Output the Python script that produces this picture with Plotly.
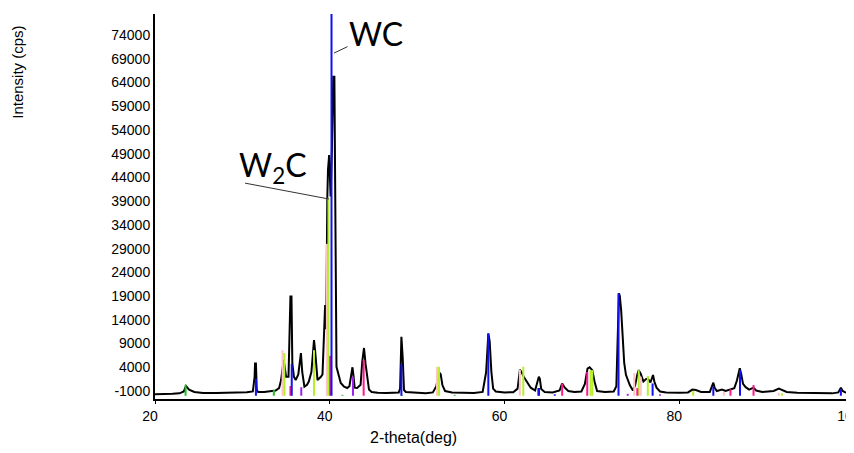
import plotly.graph_objects as go

# ---- measured pattern (2-theta in deg, intensity in cps) ----
two_theta = [20.0, 21.0, 22.0, 22.8, 23.3, 23.55, 23.9, 24.5, 25.5, 27.0, 28.5, 29.5, 30.5, 31.2,
             31.4, 31.45, 31.55, 31.65, 31.8, 32.5, 33.2, 33.8, 34.2, 34.43, 34.73, 35.0, 35.28,
             35.5, 35.62, 35.72, 35.9, 36.1, 36.4, 36.7, 36.85, 37.1, 37.4, 37.6, 37.9, 38.2,
             38.35, 38.6, 38.99, 39.17, 39.47, 39.6, 39.72, 39.8, 39.93, 40.0, 40.1, 40.25, 40.4,
             40.53, 40.62, 40.7, 40.77, 41.07, 41.26, 41.64, 42.0, 42.25, 42.45, 42.6, 42.7, 42.85,
             43.14, 43.53, 43.72, 43.92, 44.1, 44.3, 44.49, 44.8, 45.5, 46.5, 47.5, 47.9, 48.05,
             48.2, 48.35, 48.5, 48.7, 50.0, 51.0, 51.8, 52.2, 52.5, 52.7, 52.9, 53.2, 54.0, 55.0,
             56.5, 57.5, 57.9, 58.15, 58.3, 58.5, 58.7, 59.0, 60.0, 61.0, 61.5, 61.76, 61.95, 62.2,
             62.6, 63.0, 63.5, 63.93, 64.05, 64.2, 64.6, 65.5, 66.3, 66.6, 66.9, 67.3, 68.0, 68.8,
             69.2, 69.5, 69.74, 70.05, 70.3, 70.6, 71.5, 72.5, 72.8, 72.95, 73.1, 73.2, 73.35,
             73.55, 73.7, 73.9, 74.1, 74.35, 74.7, 74.95, 75.2, 75.36, 75.6, 75.9, 76.2, 76.4,
             76.7, 77.0, 77.15, 77.4, 77.8, 78.5, 80.0, 81.0, 81.5, 81.9, 82.5, 83.5, 83.9, 84.05,
             84.3, 84.9, 85.3, 85.8, 86.3, 86.6, 86.93, 87.1, 87.3, 87.6, 88.0, 88.5, 88.8, 89.5,
             90.8, 91.4, 91.8, 92.3, 93.5, 95.0, 96.5, 97.5, 98.2, 98.5, 98.7, 99.0, 99.3, 100.0]
intensity = [-1700, -1700, -1600, -1500, -1100, 50, -700, -1200, -1400, -1400, -1350, -1300, -1250, -1100,
             2000, 4800, 4800, -800, -1200, -1200, -1100, -900, -400, 1300, 5500, 2000, 2000,
             18900, 18900, 4800, 2000, 1300, 2500, 7000, 3000, -100, 300, 1000, 3000, 9750,
             7000, 1300, 2000, 2500, 17100, 12000, 39700, 45600, 48700, 45000, 40000, 50000, 65200,
             65200, 30000, 10000, 4100, 2000, 700, -100, -370, 0, 3000, 4000, 2500, -300,
             -370, 300, 5200, 8060, 4700, 1300, -700, -1200, -1350, -1400, -1350, -1300, -500,
             10400, 6000, -800, -1200, -1400, -1450, -1300, 0, 3000, 2500, 200, -1000, -1300, -1400,
             -1400, -1200, 3000, 11100, 9500, 3000, -500, -1100, -1300, -1250, -500, 3430, 3000, 2000,
             700, -300, -900, 2000, 1500, -600, -1200, -1300, -900, 600, -300, -1000, -1200, -1100,
             500, 3700, 4000, 3400, 1000, -1000, -1200, -1100, 0, 10100, 19600, 19000, 16000,
             9750, 4900, 2400, 1300, 200, -900, 200, 2500, 3400, 2600, 1000, 1500, 1600,
             800, 2370, 1000, -300, -1100, -1300, -1350, -1300, -700, -800, -1200, -1200, 750, -300,
             -1000, -700, -1000, -700, -400, 1200, 3800, 2500, 500, -200, -700, -300, -900, -1200,
             -1000, -500, -800, -1200, -1350, -1450, -1500, -1500, -1300, -300, -1000, -1300, -1400, -1450]

# ---- reference stick patterns (position, height) ----
wc_pos = [31.55, 35.65, 40.2, 48.2, 58.15, 63.95, 65.75, 73.05, 76.95, 83.9, 86.95, 98.5]
wc_h = [1600, 4700, 80000, 4700, 11150, -370, -1700, 19600, 600, -100, 3400, -600]
w2c_pos = [34.8, 38.2, 39.85, 52.5, 62.15, 69.85, 70.05, 75.36, 76.4, 81.6, 91.75]
w2c_h = [7000, 7600, 39700, 4100, 4100, 3400, 3400, 3400, 2160, -1000, -1500]
pink_pos = [34.6, 39.67, 52.27, 61.76, 74.85, 75.6, 85.1, 91.4]
pink_h = [7600, 30000, 4100, 3430, 2800, 2000, -1200, -1400]
magenta_pos = [35.5, 40.05, 43.88, 63.85, 66.6, 69.47, 75.2, 85.86, 88.5]
magenta_h = [50, 6400, 5500, -370, 600, 3000, -400, -640, 260]
purple_pos = [36.74, 42.66, 74.1, 77.8]
purple_h = [-200, 2000, -1600, -1700]
green_pos = [23.5, 33.6, 41.45, 48.25, 54.3]
green_h = [260, -800, -1800, -1800, -1800]

# ---- axis ticks ----
x_ticks = [20, 40, 60, 80, 100]
y_ticks = [-1000, 4000, 9000, 14000, 19000, 24000, 29000, 34000, 39000, 44000,
           49000, 54000, 59000, 64000, 69000, 74000]
y_ticktext = [str(v) for v in y_ticks]

stick_base = -2000
y_range = [-2686, 78434]
x_range = [20, 100]

fig = go.Figure()
fig.add_trace(go.Scatter(x=two_theta, y=intensity, mode="lines",
                         line=dict(color="black", width=2), showlegend=False, hoverinfo="skip"))

def sticks(pos, h, color):
    xs, ys = [], []
    for p, v in zip(pos, h):
        xs += [p, p, None]
        ys += [stick_base, v, None]
    fig.add_trace(go.Scatter(x=xs, y=ys, mode="lines", line=dict(color=color, width=2),
                             showlegend=False, hoverinfo="skip"))

sticks(pink_pos, pink_h, "#ffc4c4")
sticks(w2c_pos, w2c_h, "#b4f02c")
sticks(magenta_pos, magenta_h, "#ff1a8c")
sticks(purple_pos, purple_h, "#a020f0")
sticks(green_pos, green_h, "#22c022")
sticks(wc_pos, wc_h, "#1010f0")

lab_font = dict(family="Lato", size=32, color="black")
fig.add_annotation(x=40.49, y=70200, xref="x", yref="y", text="WC", showarrow=True,
                   arrowhead=0, arrowwidth=1, arrowcolor="#333", ax=42, ay=-20,
                   font=lab_font)
fig.add_annotation(x=29.4, y=41200, xref="x", yref="y", text="W<sub>2</sub>C",
                   showarrow=False, xanchor="left", yanchor="bottom", font=lab_font)
fig.add_shape(type="line", xref="x", yref="y", x0=30.3, y0=42800, x1=39.91, y1=39450,
              line=dict(color="#333", width=1))

# axis titles as paper-positioned text
fig.add_annotation(x=-0.196, y=0.85, xref="paper", yref="paper", text="Intensity (cps)",
                   textangle=-90, showarrow=False, font=dict(size=15),
                   xanchor="center", yanchor="middle")
fig.add_annotation(x=0.3705, y=-0.099, xref="paper", yref="paper", text="2-theta(deg)",
                   showarrow=False, font=dict(size=16), xanchor="center", yanchor="middle")

# the page body adds an 8px offset, so the figure is sized/margined to compensate
fig.update_layout(
    width=846, height=445,
    margin=dict(l=147, r=0, t=6, b=54, autoexpand=False),
    paper_bgcolor="white", plot_bgcolor="white",
    font=dict(family="Liberation Sans", size=14, color="black"),
)
fig.update_xaxes(range=x_range, tickvals=x_ticks, showgrid=False, zeroline=False,
                 showline=True, linecolor="black", linewidth=2, ticks="outside", ticklen=3,
                 tickcolor="black", ticklabeloverflow="allow", ticklabelshift=-5,
                 automargin=False)
fig.update_yaxes(range=y_range, tickvals=y_ticks, ticktext=y_ticktext, showgrid=False,
                 zeroline=False, showline=True, linecolor="black", linewidth=2, ticks="",
                 automargin=False)

fig.write_html("out.html")
